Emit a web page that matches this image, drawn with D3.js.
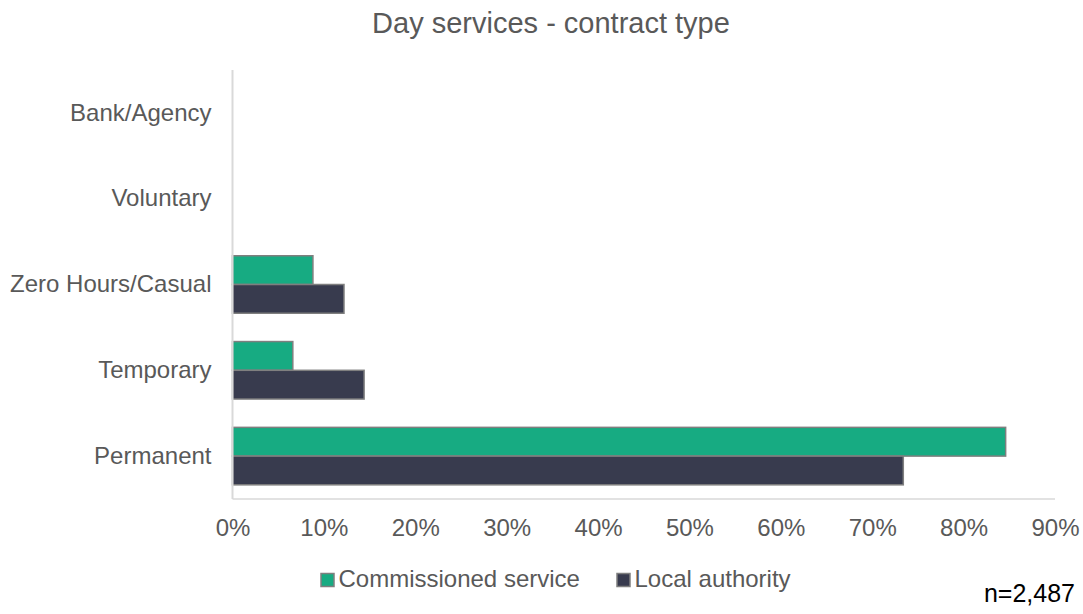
<!DOCTYPE html>
<html>
<head>
<meta charset="utf-8">
<script src="https://cdn.jsdelivr.net/npm/d3@7"></script>
<style>
  html, body { margin: 0; padding: 0; background: #fff; }
  svg { display: block; font-family: "Liberation Sans", Arial, sans-serif; }
</style>
</head>
<body>
<svg id="chart" width="1083" height="614"></svg>
<script>
// Contract type shares by provider type
const categories = ["Bank/Agency", "Voluntary", "Zero Hours/Casual", "Temporary", "Permanent"];
const seriesNames = ["Commissioned service", "Local authority"];
const commissioned = [0, 0, 8.8, 6.6, 84.6];
const localAuthority = [0, 0, 12.2, 14.4, 73.4];
const xTicks = [0, 10, 20, 30, 40, 50, 60, 70, 80, 90];
const colors = ["#17AB82", "#383B4E"];

const svg = d3.select("#chart");
const plotLeft = 232.5, plotRight = 1055, plotTop = 70, plotBottom = 499;
const FONT = "Liberation Sans, Arial, sans-serif";

const x = d3.scaleLinear().domain([0, 90]).range([plotLeft, plotRight]);
const y = d3.scaleBand().domain(categories).range([plotTop, plotBottom])
  .paddingInner(0.33).paddingOuter(0.165);
const ySub = d3.scaleBand().domain(seriesNames).range([0, y.bandwidth()]);

const values = [commissioned, localAuthority];

// Title
svg.append("text")
  .attr("x", 551).attr("y", 33)
  .attr("text-anchor", "middle")
  .attr("font-size", 29).attr("fill", "#595959")
  .text("Day services - contract type");

// Bars
const groups = svg.append("g").selectAll("g")
  .data(categories).join("g")
  .attr("transform", d => `translate(0,${y(d)})`);

groups.selectAll("rect")
  .data((c, i) => seriesNames.map((s, j) => ({ s, v: values[j][i], j })).filter(d => d.v > 0))
  .join("rect")
  .attr("x", x(0))
  .attr("y", d => ySub(d.s))
  .attr("width", d => x(d.v) - x(0))
  .attr("height", ySub.bandwidth())
  .attr("fill", d => colors[d.j])
  .attr("stroke", "#7f7f7f")
  .attr("stroke-width", 1.5);

// Axis lines
svg.append("line")
  .attr("x1", plotLeft).attr("x2", plotLeft).attr("y1", plotTop).attr("y2", plotBottom)
  .attr("stroke", "#d9d9d9").attr("stroke-width", 2);
svg.append("line")
  .attr("x1", plotLeft).attr("x2", plotRight).attr("y1", plotBottom).attr("y2", plotBottom)
  .attr("stroke", "#d9d9d9").attr("stroke-width", 1.5);

// Category labels
const yAxis = svg.append("g")
  .attr("transform", `translate(${plotLeft},0)`)
  .call(d3.axisLeft(y).tickSize(0).tickPadding(21));
yAxis.select(".domain").remove();
yAxis.selectAll("text")
  .attr("font-size", 24).attr("fill", "#595959")
  .attr("font-family", FONT);

// Percentage tick labels
const xAxis = svg.append("g")
  .attr("transform", `translate(0,${plotBottom})`)
  .call(d3.axisBottom(x).tickValues(xTicks).tickFormat(d => d + "%").tickSize(0).tickPadding(20));
xAxis.select(".domain").remove();
xAxis.selectAll("text")
  .attr("font-size", 24).attr("fill", "#595959")
  .attr("font-family", FONT);

// Legend
const legendItems = [
  { name: seriesNames[0], x: 320.5, color: colors[0] },
  { name: seriesNames[1], x: 616.5, color: colors[1] }
];
const lg = svg.append("g").selectAll("g").data(legendItems).join("g")
  .attr("transform", d => `translate(${d.x},0)`);
lg.append("rect")
  .attr("x", 0.5).attr("y", 573.5).attr("width", 13).attr("height", 13)
  .attr("fill", d => d.color).attr("stroke", "#7f7f7f").attr("stroke-width", 1.5);
lg.append("text")
  .attr("x", 18).attr("y", 587)
  .attr("font-size", 24).attr("fill", "#595959")
  .text(d => d.name);

// Sample size note
svg.append("text")
  .attr("x", 1075).attr("y", 602)
  .attr("text-anchor", "end")
  .attr("font-size", 25).attr("fill", "#000")
  .text("n=2,487");
</script>
</body>
</html>
